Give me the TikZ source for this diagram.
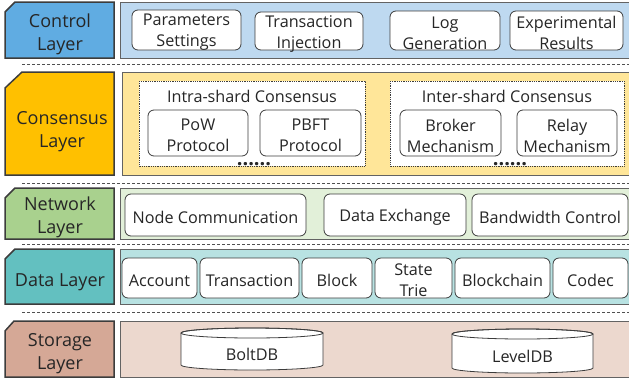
\documentclass[tikz,border=0pt]{standalone}
\usepackage{fontspec}
\setmainfont{Open Sans}
\usetikzlibrary{positioning}
\definecolor{ctlA}{RGB}{96,172,226}
\definecolor{ctlB}{RGB}{190,217,240}
\definecolor{conA}{RGB}{255,192,0}
\definecolor{conB}{RGB}{255,230,153}
\definecolor{netA}{RGB}{169,209,142}
\definecolor{netB}{RGB}{226,240,217}
\definecolor{datA}{RGB}{99,192,192}
\definecolor{datB}{RGB}{184,226,226}
\definecolor{stoA}{RGB}{213,168,150}
\definecolor{stoB}{RGB}{236,216,206}
\definecolor{edge}{RGB}{60,60,60}
\begin{document}
\begin{tikzpicture}[x=1pt,y=-1pt,
  every node/.style={font=\fontsize{16.2}{21}\selectfont, text=black!85, inner sep=0pt, yshift=-2.5pt},
  lbl/.style={draw=edge, line width=1.5pt},
  lbltxt/.style={font=\fontsize{18}{23}\selectfont, align=center},
  panel/.style={draw=edge!80, line width=1pt},
  item/.style={draw=edge, line width=0.8pt, fill=white, rounded corners=6pt},
  grp/.style={draw=edge, line width=0.8pt, densely dotted, fill=white},
  sep/.style={draw=edge!90, line width=0.9pt, dash pattern=on 3pt off 2pt},
  dots/.style={font=\bfseries\fontsize{20}{20}\selectfont},
  txt/.style={align=center}]
\useasboundingbox (0,0) rectangle (629,381);
% separators
\draw[sep] (22,64) -- (629,64);
\draw[sep] (22,183) -- (629,183);
\draw[sep] (22,244) -- (629,244);
\draw[sep] (22,312) -- (629,312);
% ---- Control layer
\draw[lbl, fill=ctlA] (5,12) -- (15,2) -- (114,2) -- (114,58) -- (5,58) -- cycle;
\node[lbltxt] (ctl) at (60,32) {Control\\Layer};
\draw[panel, fill=ctlB] (120,2) rectangle (640,58);
\draw[item] (132,10) rectangle (241,50);
\node[txt] (c1) at (186.5,30) {Parameters\\Settings};
\draw[item] (255,12) rectangle (363,50);
\node[txt] (c2) at (309,31) {Transaction\\Injection};
\draw[item] (390,11) rectangle (500,50);
\node[txt] (c3) at (445,30.5) {Log\\Generation};
\draw[item] (510,11) rectangle (623,50);
\node[txt] (c4) at (566.5,30.5) {Experimental\\Results};
% ---- Consensus layer
\draw[lbl, fill=conA] (5,88) -- (22,72) -- (114,72) -- (114,175) -- (5,175) -- cycle;
\node[lbltxt] (con) at (62,129) {Consensus\\Layer};
\draw[panel, fill=conB] (122,72) rectangle (640,175);
\draw[grp] (139,81) rectangle (365,166);
\node (intra) at (252,94) {Intra-shard Consensus};
\draw[grp] (390,81) rectangle (624,166);
\node (inter) at (507,94) {Inter-shard Consensus};
\draw[item] (148,110) rectangle (248,156);
\node[txt] (pow) at (198,133) {PoW\\Protocol};
\draw[item] (260,110) rectangle (361,156);
\node[txt] (pbft) at (310.5,133) {PBFT\\Protocol};
\draw[item] (400,110) rectangle (501,156);
\node[txt] (brk) at (450.5,133) {Broker\\Mechanism};
\draw[item] (517,110) rectangle (617,156);
\node[txt] (rly) at (567,133) {Relay\\Mechanism};
\node[dots] (d1) at (254,162) {......};
\node[dots] (d2) at (510,162) {......};
% ---- Network layer
\draw[lbl, fill=netA] (5,198) -- (15,188) -- (114,188) -- (114,239) -- (5,239) -- cycle;
\node[lbltxt] (net) at (60,215) {Network\\Layer};
\draw[panel, fill=netB] (120,188) rectangle (640,239);
\draw[item] (125,194) rectangle (306,236);
\node (n1) at (215.5,215) {Node Communication};
\draw[item] (324,194) rectangle (466,236);
\node (n2) at (395,215) {Data Exchange};
\draw[item] (472,194) rectangle (628,236);
\node (n3) at (550,215) {Bandwidth Control};
% ---- Data layer
\draw[lbl, fill=datA] (5,259) -- (15,249) -- (114,249) -- (114,304) -- (5,304) -- cycle;
\node[lbltxt] (dat) at (60,280) {Data Layer};
\draw[panel, fill=datB] (120,249) rectangle (640,304);
\draw[item] (122,258) rectangle (197,298);
\node (a1) at (159.5,278) {Account};
\draw[item] (200,258) rectangle (299,298);
\node (a2) at (249.5,278) {Transaction};
\draw[item] (302,258) rectangle (372,298);
\node (a3) at (337,278) {Block};
\draw[item] (375,258) rectangle (452,298);
\node[txt] (a4) at (413.5,278) {State\\Trie};
\draw[item] (455,258) rectangle (550,298);
\node (a5) at (502.5,278) {Blockchain};
\draw[item] (553,258) rectangle (628,298);
\node (a6) at (590.5,278) {Codec};
% ---- Storage layer
\draw[lbl, fill=stoA] (5,331) -- (14,321) -- (114,321) -- (114,377) -- (5,377) -- cycle;
\node[lbltxt] (sto) at (60,351) {Storage\\Layer};
\draw[panel, fill=stoB] (120,321) rectangle (640,377);
% cylinders
\draw[draw=edge, line width=0.8pt, fill=white] (181,333) -- (181,365) arc[start angle=180, end angle=360, x radius=71, y radius=-5] -- (323,333) arc[start angle=0, end angle=180, x radius=71, y radius=-5];
\draw[draw=edge, line width=0.8pt] (252,333) ellipse[x radius=71, y radius=5];
\node (bolt) at (252,352) {BoltDB};
\draw[draw=edge, line width=0.8pt, fill=white] (452,334) -- (452,368) arc[start angle=180, end angle=360, x radius=70.5, y radius=-5] -- (593,334) arc[start angle=0, end angle=180, x radius=70.5, y radius=-5];
\draw[draw=edge, line width=0.8pt] (522.5,334) ellipse[x radius=70.5, y radius=5];
\node (lvl) at (522.5,354) {LevelDB};
\end{tikzpicture}
\end{document}
